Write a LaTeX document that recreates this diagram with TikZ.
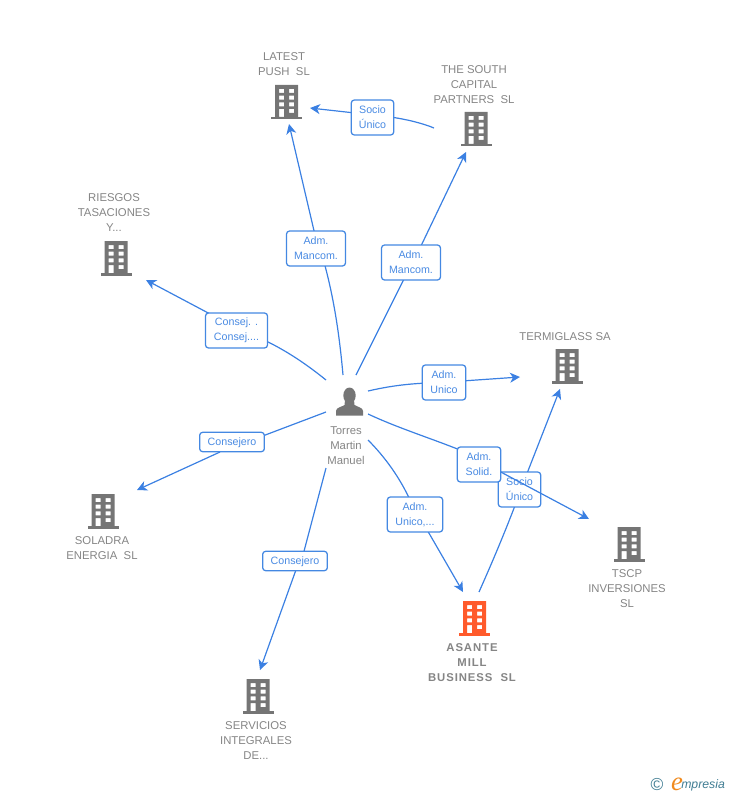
\documentclass[tikz,border=0pt]{standalone}
\usepackage{fontspec}
\setmainfont{Liberation Sans}
\newfontfamily\logofont{Liberation Serif}
\usetikzlibrary{arrows.meta}
\definecolor{linkblue}{HTML}{3B80E2}
\definecolor{labelblue}{HTML}{4A8BE3}
\definecolor{boxblue}{HTML}{4488E2}
\definecolor{namegrey}{HTML}{858585}
\definecolor{icongrey}{HTML}{757575}
\definecolor{iconorange}{HTML}{FF5A2B}
\definecolor{logoteal}{HTML}{3F7C92}
\definecolor{logoorange}{HTML}{F08A1E}
\tikzset{
  link/.style={draw=linkblue,line width=0.9pt},
  arrowlink/.style={link,-{Stealth[length=7.5pt,width=7.5pt,inset=2.2pt]}},
  rolebox/.style={draw=boxblue,line width=0.95pt,rounded corners=2.2pt,fill=white,text=labelblue,
    font=\fontsize{8}{11.25}\selectfont,align=center,inner sep=0pt,minimum height=26.2pt,
    execute at begin node={\rule{0pt}{7.4pt}}},
  nametext/.style={text=namegrey,font=\fontsize{8.5}{11.25}\selectfont,align=center,inner sep=0pt},
  building/.pic={
    \fill[#1,even odd rule]
      (-11.5,-17) rectangle (11.5,15)
      (-7.5,-13) rectangle (-2.5,-9) (2.5,-13) rectangle (7.5,-9)
      (-7.5,-6.3) rectangle (-2.5,-2.3) (2.5,-6.3) rectangle (7.5,-2.3)
      (-7.5,0.4) rectangle (-2.5,4.4) (2.5,0.4) rectangle (7.5,4.4)
      (-7.5,7) rectangle (-2.5,15) (2.5,7) rectangle (7.5,11);
    \fill[#1] (-15.5,15) rectangle (15.5,17.5);
  },
  personicon/.pic={
    \fill[icongrey] (0,-6.5) ellipse (6.2 and 8);
    \fill[icongrey] (-13.5,13.5) -- (-13.5,9) .. controls (-13.5,5.5) and (-8,5) .. (-5,3)
      -- (-4.5,-2) -- (4.5,-2) -- (5,3) .. controls (8,5) and (13.5,5.5) .. (13.5,9) -- (13.5,13.5) -- cycle;
  }
}
\begin{document}
\begin{tikzpicture}[x=0.75pt,y=-0.75pt]
\useasboundingbox (0,0) rectangle (728,795);
% icons
\pic at (286.5,102) {building=icongrey};
\pic at (476,129) {building=icongrey};
\pic at (116,258) {building=icongrey};
\pic at (567,366) {building=icongrey};
\pic at (103,511) {building=icongrey};
\pic at (629,544) {building=icongrey};
\pic at (258,696) {building=icongrey};
\pic at (474.5,618) {building=iconorange};
\pic at (349.5,402) {personicon};
% names
\node[nametext] (latest) at (284,64.5) {LATEST\\PUSH\ \ SL};
\node[nametext] (south) at (474,85) {THE SOUTH\\CAPITAL\\PARTNERS\ \ SL};
\node[nametext] (riesgos) at (114,213) {RIESGOS\\TASACIONES\\Y...};
\node[nametext] (termi) at (565,337) {TERMIGLASS SA};
\node[nametext] (soladra) at (102,548.5) {SOLADRA\\ENERGIA\ \ SL};
\node[nametext] (tscp) at (627,589) {TSCP\\INVERSIONES\\SL};
\node[nametext] (serv) at (256,741) {SERVICIOS\\INTEGRALES\\DE...};
\node[nametext,font=\fontsize{8.5}{11.25}\selectfont\bfseries\addfontfeature{LetterSpace=8}] (asante) at (472,662.5) {ASANTE\\MILL\\BUSINESS\ \ SL};
\node[nametext] (torres) at (346,446) {Torres\\Martin\\Manuel};
% free connector ends
\coordinate (s1) at (343,375); \coordinate (e1) at (289,124);
\coordinate (s2) at (356,375); \coordinate (e2) at (466,152);
\coordinate (s3) at (434,128); \coordinate (e3) at (310,108);
\coordinate (s4) at (326,380); \coordinate (e4) at (146,280);
\coordinate (s5) at (368,391); \coordinate (e5) at (520,377);
\coordinate (s6) at (368,414); \coordinate (e6) at (589,519);
\coordinate (s7) at (368,440); \coordinate (e7) at (463,592);
\coordinate (s8) at (479,592); \coordinate (e8) at (560,389);
\coordinate (s9) at (326,412); \coordinate (e9) at (137,490);
\coordinate (s10) at (326,468); \coordinate (e10) at (260,670);
% label centres
\coordinate (c1) at (316,248.5);
\coordinate (c2) at (411,262.5);
\coordinate (c3) at (372.5,117.5);
\coordinate (c4) at (236.5,330.5);
\coordinate (c5) at (444,382.5);
\coordinate (c6) at (479,464.5);
\coordinate (c7) at (415,514.5);
\coordinate (c8) at (519.5,489.5);
\coordinate (c9) at (232,442);
\coordinate (c10) at (295,561);
% where connectors enter the boxes
\coordinate (i1) at (324,262); \coordinate (o1) at (315,235);
\coordinate (i2) at (405,277); \coordinate (o2) at (420,248);
\coordinate (i3) at (390,117); \coordinate (o3) at (355,113);
\coordinate (i4) at (264,340); \coordinate (o4) at (212,315);
\coordinate (i5) at (462,381); \coordinate (o5) at (462,381);
\coordinate (i7) at (410,500); \coordinate (o7) at (426,528);
\coordinate (i8) at (516,503); \coordinate (o8) at (526,476);
\coordinate (i9) at (260,437); \coordinate (o9) at (220,452);
\coordinate (i10) at (303,555); \coordinate (o10) at (297,567);
\coordinate (i6) at (460,450); \coordinate (o6) at (497,470);
% connectors
\draw[link] (s1) .. controls (339,330) and (333,295) .. (i1);
\draw[arrowlink] (o1) -- (e1);
\draw[link] (s2) -- (i2);
\draw[arrowlink] (o2) -- (e2);
\draw[link] (s3) .. controls (422,123) and (405,119) .. (i3);
\draw[arrowlink] (o3) -- (e3);
\draw[link] (s4) .. controls (305,363) and (285,350) .. (i4);
\draw[arrowlink] (o4) -- (e4);
\draw[link] (s5) .. controls (390,386) and (410,383) .. (c5);
\draw[arrowlink] (o5) -- (e5);
\draw[link] (s7) .. controls (385,457) and (400,478) .. (i7);
\draw[arrowlink] (o7) -- (e7);
\draw[link] (s9) -- (i9);
\draw[arrowlink] (o9) -- (e9);
\draw[link] (s10) -- (i10);
\draw[arrowlink] (o10) -- (e10);
\draw[link] (s8) .. controls (491,565) and (503,537) .. (i8);
\draw[arrowlink] (o8) -- (e8);
% labels
\node[rolebox,minimum width=44.2pt] (l1) at (c1) {Adm.\\Mancom.};
\node[rolebox,minimum width=44.2pt] (l2) at (c2) {Adm.\\Mancom.};
\node[rolebox,minimum width=31.8pt] (l3) at (c3) {Socio\\Único};
\node[rolebox,minimum width=46.5pt] (l4) at (c4) {Consej. .\\Consej....};
\node[rolebox,minimum width=32.5pt] (l5) at (c5) {Adm.\\Unico};
\node[rolebox,minimum width=41.5pt] (l7) at (c7) {Adm.\\Unico,...};
\node[rolebox,minimum width=48.5pt,minimum height=14.5pt] (l9) at (c9) {Consejero};
\node[rolebox,minimum width=48.5pt,minimum height=14.5pt] (l10) at (c10) {Consejero};
\node[rolebox,minimum width=31.8pt] (l8) at (c8) {Socio\\Único};
% this connector runs over the box above
\draw[link] (s6) .. controls (398,428) and (430,438) .. (i6);
\draw[arrowlink] (o6) -- (e6);
\node[rolebox,minimum width=32.5pt] (l6) at (c6) {Adm.\\Solid.};
% logo
\node[inner sep=0pt,text=logoteal,font=\fontsize{13}{13}\selectfont] (copy) at (657,784.5) {©};
\node[inner sep=0pt,text=logoorange,font=\logofont\itshape\fontsize{20}{20}\selectfont] (loge) at (677,784) {e};
\node[inner sep=0pt,anchor=west,text=logoteal,font=\itshape\fontsize{9.2}{9.2}\selectfont] (logt) at (681,785) {mpresia};
\end{tikzpicture}
\end{document}
